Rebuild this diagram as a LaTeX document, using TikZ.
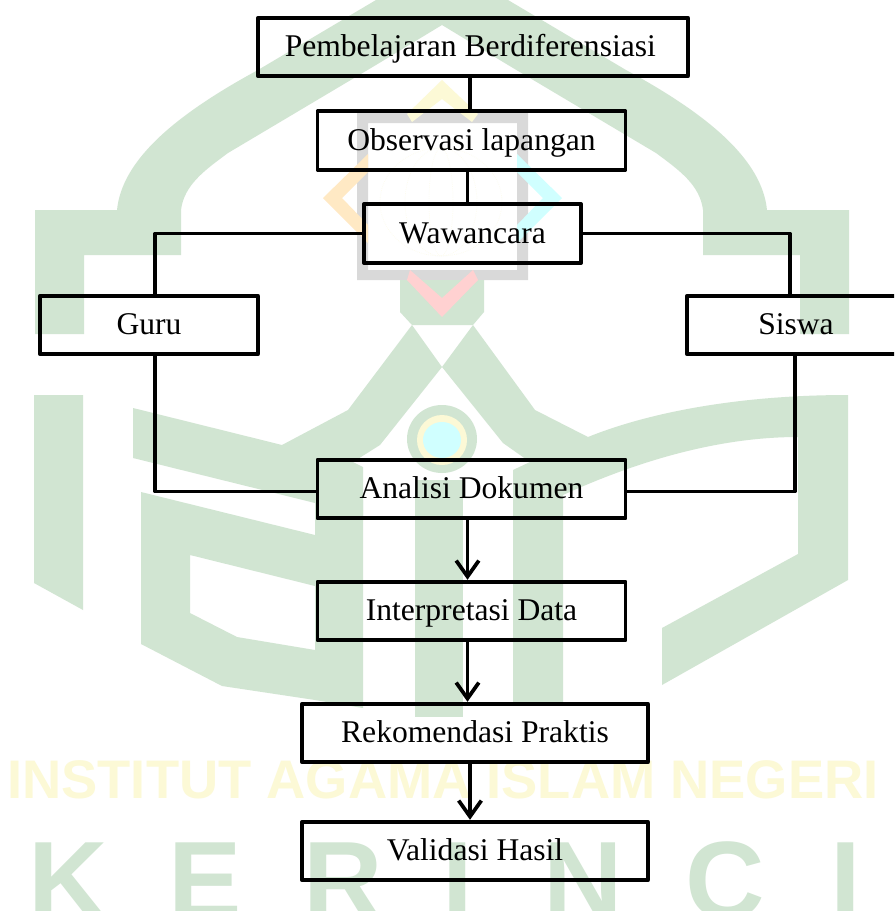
\documentclass[tikz,border=0pt]{standalone}
\usepackage{fontspec}
\setmainfont{Liberation Serif}
\newfontfamily\wmfont{Liberation Sans}[BoldFont={Liberation Sans Bold}]
\usetikzlibrary{arrows.meta,positioning}
\definecolor{wmgreen}{RGB}{209,229,210}
\definecolor{wmyellow}{RGB}{252,249,214}
\definecolor{wmgrey}{RGB}{217,217,217}
\definecolor{wmorange}{RGB}{255,233,196}
\definecolor{wmcyan}{RGB}{208,255,255}
\definecolor{wmpink}{RGB}{255,209,209}
\tikzset{
  flowbox/.style={draw=black,line width=2.8pt,line join=round,minimum height=44pt,inner sep=0pt,
    text height=14.5pt,text depth=0pt,font=\fontsize{23.7}{28}\selectfont},
  flowline/.style={line width=2.8pt,line join=round},
  flowarrow/.style={flowline,line cap=round,-{Straight Barb[length=12pt,width=17pt,line width=2.8pt]}},
  wmletter/.style={text=wmgreen,inner sep=0pt,anchor=base,font=\fontsize{82.5}{90}\wmfont\bfseries},
  wmshape/.style={fill=wmgreen,draw=none}
}

\begin{document}
\begin{tikzpicture}[x=0.75pt,y=0.75pt,yscale=-1]
\clip (0,0) rectangle (894,911);
\fill[white] (0,0) rectangle (894,911);

%Watermark: arch
\path[wmshape] (35,334) -- (35,210) -- (117,210) .. controls (122,160) and (175,115) .. (258,70) -- (376,0) -- (442,-38) -- (508,0) -- (626,70) .. controls (709,115) and (762,160) .. (767,210) -- (849,210) -- (849,334) -- (800,334) -- (800,255) -- (703,255) -- (703,210) .. controls (700,185) and (679,170) .. (656,153) -- (508,65) -- (442,25) -- (376,65) -- (228,153) .. controls (205,170) and (184,185) .. (181,210) -- (181,255) -- (84,255) -- (84,334) -- cycle;

%Watermark: frame, column and corners
\path[fill=wmgrey,even odd rule] (357,112) rectangle (528,280) (368,123) rectangle (517,270);
\path[wmshape] (400,280) -- (484,280) -- (484,312) -- (473,325) -- (412,325) -- (400,312) -- cycle;
\path[fill=wmyellow] (442,80) -- (478,114) -- (472,122) -- (442,99) -- (412,122) -- (407,114) -- cycle;
\path[fill=wmpink] (442,317) -- (478,280) -- (473,270) -- (442,298) -- (410,270) -- (407,280) -- cycle;
\path[fill=wmorange] (368,154) -- (323,198) -- (368,243) -- (368,225) -- (342,198) -- (368,172) -- cycle;
\path[fill=wmcyan] (517,154) -- (562,198) -- (517,243) -- (517,225) -- (543,198) -- (517,172) -- cycle;
\foreach \rx in {61,36,12}
  \draw[draw=wmyellow!60!white,line width=0.4pt,densely dotted] (441,202) ellipse ({\rx} and 54);

%Watermark: lower logo
\path[wmshape] (34,395) -- (83,395) -- (83,610) -- (34,583) -- cycle;
\path[wmshape] (133,408) -- (282,445) -- (348,410) -- (412,325) -- (442,367) -- (380,445) -- (353,462) -- (363,467) -- (363,520) -- (315,503) -- (133,458) -- cycle;
\path[wmshape] (141,492) -- (315,535) -- (315,586) -- (190,555) -- (190,613) -- (237,637) -- (315,650) -- (315,700) -- (222,686) -- (141,644) -- cycle;
\path[wmshape] (315,500) -- (363,500) -- (363,708) -- (315,700) -- cycle;
\path[wmshape] (415,480) rectangle (463,717);
\path[wmshape] (473,325) -- (535,410) -- (588,437) .. controls (650,412) and (740,395) .. (848,395) -- (848,580) -- (662,685) -- (662,628) -- (798,554) -- (798,437) .. controls (720,437) and (640,460) .. (563,495) -- (563,702) -- (513,702) -- (513,470) -- (530,462) -- (503,443) -- (442,367) -- cycle;
\path[wmshape] (442,439) ellipse (35 and 34);
\path[fill=wmyellow] (442,440) ellipse (25 and 25);
\path[fill=wmcyan] (442,440) ellipse (19 and 18);

%Watermark: text
\node[inner sep=0pt,anchor=base,text=wmyellow,font=\fontsize{40.7}{48}\wmfont\bfseries] (wminstitut) at (443,798) {INSTITUT AGAMA ISLAM NEGERI};
\node[wmletter] (wmk) at (68,918) {K};
\node[wmletter] (wme) at (205,918) {E};
\node[wmletter] (wmr) at (343,918) {R};
\node[wmletter] (wmi) at (458,918) {I};
\node[wmletter] (wmn) at (583,918) {N};
\node[wmletter] (wmc) at (725,918) {C};
\node[wmletter] (wmj) at (846,918) {I};

%Flow boxes
\node[flowbox,minimum width=322pt] (pembelajaran) at (473,47) {\hspace*{-4pt}Pembelajaran Berdiferensiasi};
\node[flowbox,minimum width=231pt] (observasi) at (471.5,140.5) {Observasi lapangan};
\node[flowbox,minimum width=163pt] (wawancara) at (472.5,233.5) {Wawancara};
\node[flowbox,minimum width=163pt] (guru) at (149,325) {Guru};
\node[flowbox,minimum width=163pt] (siswa) at (796,325) {Siswa};
\node[flowbox,minimum width=231pt] (analisi) at (471.5,489) {Analisi Dokumen};
\node[flowbox,minimum width=231pt] (interpretasi) at (471.5,611) {Interpretasi Data};
\node[flowbox,minimum width=259pt] (rekomendasi) at (475,733) {Rekomendasi Praktis};
\node[flowbox,minimum width=259pt] (validasi) at (475,851) {Validasi Hasil};

%Trunk positions of the connectors
\coordinate (trunkA) at (470,0);
\coordinate (trunkB) at (467.5,0);
\coordinate (trunkL) at (155,0);
\coordinate (trunkR) at (790,0);
\coordinate (trunkS) at (795,0);
\coordinate (trunkY) at (0,491.5);

%Connectors
\draw[flowline] (pembelajaran.south -| trunkA) -- (observasi.north -| trunkA);
\draw[flowline] (observasi.south -| trunkB) -- (wawancara.north -| trunkB);
\draw[flowline] (wawancara.west) -| (guru.north -| trunkL);
\draw[flowline] (wawancara.east) -| (siswa.north -| trunkR);
\draw[flowline] (guru.south -| trunkL) |- (analisi.west |- trunkY);
\draw[flowline] (siswa.south -| trunkS) |- (analisi.east |- trunkY);
\draw[flowarrow] (analisi.south -| trunkB) -- (interpretasi.north -| trunkB);
\draw[flowarrow] (interpretasi.south -| trunkB) -- (rekomendasi.north -| trunkB);
\draw[flowarrow] (rekomendasi.south -| trunkA) -- (validasi.north -| trunkA);

\end{tikzpicture}
\end{document}
